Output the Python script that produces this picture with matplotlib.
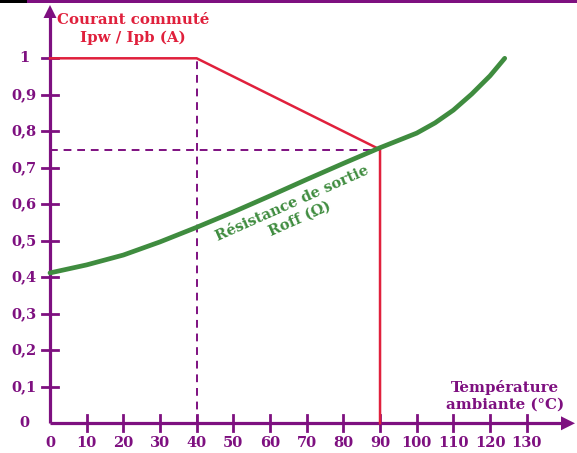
import matplotlib
matplotlib.use("Agg")
import matplotlib.pyplot as plt
from matplotlib.patches import Rectangle, Polygon

# Courbe de courant commuté (rouge)
courant_x = [0, 40, 90, 90]
courant_y = [1.0, 1.0, 0.75, 0.0]

# Résistance de sortie Roff (vert)
roff_x = [0, 10, 20, 30, 40, 50, 60, 70, 80, 90, 100, 105, 110, 115, 120, 124]
roff_y = [0.412, 0.434, 0.461, 0.497, 0.537, 0.579, 0.623, 0.668, 0.712, 0.755,
          0.795, 0.823, 0.858, 0.902, 0.952, 1.0]

x_ticks = list(range(0, 140, 10))
y_ticks = [0.1, 0.2, 0.3, 0.4, 0.5, 0.6, 0.7, 0.8, 0.9, 1.0]
y_labels = ["0,1", "0,2", "0,3", "0,4", "0,5", "0,6", "0,7", "0,8", "0,9", "1"]

PURPLE = "#7e1080"
RED = "#e0203c"
GREEN = "#3f8c3f"

W, H = 577, 453
fig = plt.figure(figsize=(W / 100, H / 100), dpi=100)
ax = fig.add_axes([0, 0, 1, 1])
ax.axis("off")

# pixel -> données : px = X0 + x*SX ; py = Y0 - y*SY
X0, SX = 50.0, 3.667
Y0, SY = 423.3, 365.0
ax.set_xlim(-X0 / SX, (W - X0) / SX)
ax.set_ylim(-(H - Y0) / SY, Y0 / SY)


def px(p):
    return (p - X0) / SX


def py(p):
    return (Y0 - p) / SY


plt.rcParams["font.family"] = ["DejaVu Serif"]
font = dict(fontweight="bold", family="DejaVu Serif")

# axes avec flèches
ax.plot([0, 0], [0, py(14)], color=PURPLE, lw=2.3, solid_capstyle="butt")
ax.plot([0, px(563)], [0, 0], color=PURPLE, lw=2.3, solid_capstyle="butt")
ax.add_patch(Polygon([(0, py(5)), (px(X0 - 6.5), py(18)), (px(X0 + 6.5), py(18))],
                     closed=True, color=PURPLE, lw=0))
ax.add_patch(Polygon([(px(575), 0), (px(561), py(Y0 - 7)), (px(561), py(Y0 + 7))],
                     closed=True, color=PURPLE, lw=0))

# graduations
for xt in x_ticks:
    if xt > 0:
        ax.plot([xt, xt], [-8 / SY, 8 / SY], color=PURPLE, lw=2)
    ax.text(xt, py(443), str(xt), ha="center", va="center",
            color=PURPLE, fontsize=10.5, **font)
for yt, lab in zip(y_ticks, y_labels):
    ax.plot([-8 / SX, 8 / SX], [yt, yt], color=PURPLE, lw=2)
    ax.text(px(24), yt, lab, ha="center", va="center",
            color=PURPLE, fontsize=10.5, **font)
ax.text(px(24), 0, "0", ha="center", va="center", color=PURPLE, fontsize=10.5, **font)

# pointillés
ax.plot([40, 40], [0, 1], color=PURPLE, lw=1.4, ls=(0, (4, 3)))
ax.plot([0, 90], [0.75, 0.75], color=PURPLE, lw=1.4, ls=(0, (4, 3)))

# courbes
ax.plot(courant_x, courant_y, color=RED, lw=1.8, solid_joinstyle="miter")
ax.plot(roff_x, roff_y, color=GREEN, lw=3.4, solid_capstyle="round",
        solid_joinstyle="round")

# textes
ax.text(px(133), py(29), "Courant commuté\nIpw / Ipb (A)",
        ha="center", va="center", color=RED, fontsize=10.8, linespacing=1.3, **font)
ax.text(px(505), py(396), "Température\nambiante (°C)",
        ha="center", va="center", color=PURPLE, fontsize=10.8, linespacing=1.3, **font)
ax.text(px(296), py(211), "Résistance de sortie\nRoff (Ω)",
        ha="center", va="center", color=GREEN, fontsize=10.5, rotation=24,
        rotation_mode="anchor", linespacing=1.2, **font)

# bandeau en haut
fig.patches.append(Rectangle((0, 1 - 3 / H), 27 / W, 3 / H, transform=fig.transFigure,
                             color="black", lw=0))
fig.patches.append(Rectangle((27 / W, 1 - 3 / H), 1, 3 / H, transform=fig.transFigure,
                             color=PURPLE, lw=0))

fig.savefig("out.png", dpi=100)
